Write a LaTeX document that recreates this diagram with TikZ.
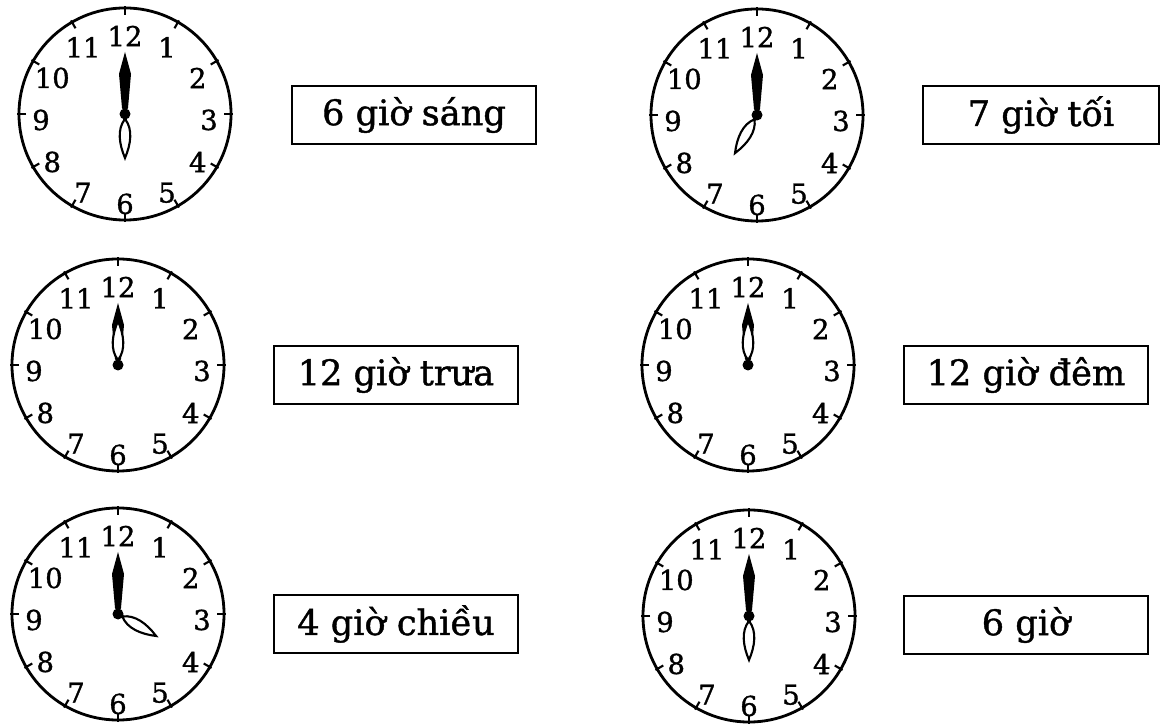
\documentclass[tikz,border=0pt]{standalone}
\usepackage{fontspec}
\setmainfont{DejaVu Serif}
\newfontfamily\clockfont{DejaVu Serif}[FakeBold=1.2]
\usetikzlibrary{calc}

\begin{document}
\begin{tikzpicture}[x=0.025cm, y=0.025cm,
	clockface/.style={circle, draw, line width=2pt, inner sep=0pt, minimum size=5.3cm},
	hournum/.style={inner sep=0pt, font=\clockfont\fontsize{19.5}{20}\selectfont},
	hourtick/.style={line width=1.5pt},
	timebox/.style={draw, line width=1.5pt, inner sep=0pt, minimum width=6.1cm, minimum height=1.45cm, font=\clockfont\fontsize{25}{26}\selectfont}]

	\useasboundingbox (0,0) rectangle (1175,723);

	\node 	(c1)		at	(125,609) 	[clockface]{};
	\node 	(c2)		at	(757,608) 	[clockface]{};
	\node 	(c3)		at	(118,358) 	[clockface]{};
	\node 	(c4)		at	(748,358) 	[clockface]{};
	\node 	(c5)		at	(118,109) 	[clockface]{};
	\node 	(c6)		at	(749,107) 	[clockface]{};

	\foreach \c/\h in {c1/180, c2/210, c3/0, c4/0, c5/120, c6/180}{
		\foreach \k in {1,...,12}{
			\draw[hourtick]	($(\c)+(90-30*\k:99)$)	--	($(\c)+(90-30*\k:108)$);
			\node 	(\c-\k)	at	($(\c)+(0,-6)+(90-30*\k:84)$)	[hournum]{\k};
		}
		\begin{scope}[shift={(\c)}]
			% minute hand
			\fill	(0,0) -- (-3,6) -- (-6,40) -- (0,62) -- (6,40) -- (3,6) -- cycle;
			% hour hand
			\filldraw[fill=white, line width=1.5pt, rotate=-\h]	(0,5) .. controls (-8,15) and (-6,30) .. (0,44) .. controls (6,30) and (8,15) .. (0,5) -- cycle;
			\draw[line width=2.2pt, rotate=-\h]	(0,0) -- (0,6);
			\fill	(0,0) circle (5.5);
		\end{scope}
	}

	\node 	(b1)		at	(414,608) 	[timebox]{6 giờ sáng};
	\node 	(b2)		at	(1041,608) 	[timebox, minimum width=5.9cm]{7 giờ tối};
	\node 	(b3)		at	(396,348) 	[timebox]{12 giờ trưa};
	\node 	(b4)		at	(1026,348) 	[timebox]{12 giờ đêm};
	\node 	(b5)		at	(396,99) 	[timebox]{4 giờ chiều};
	\node 	(b6)		at	(1026,98) 	[timebox]{6 giờ};

\end{tikzpicture}
\end{document}
